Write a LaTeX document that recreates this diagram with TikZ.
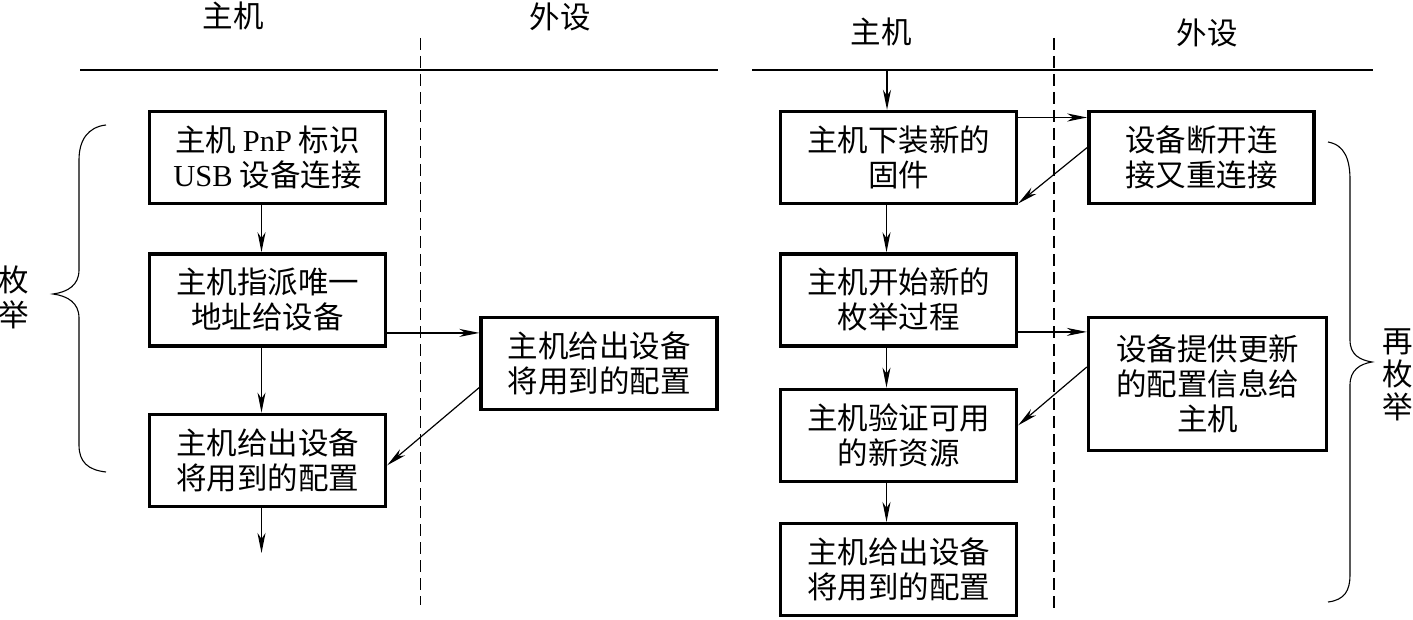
\documentclass[tikz,border=0pt]{standalone}
\usepackage{fontspec}
\setmainfont{Liberation Serif}
\newfontfamily\cjk{Noto Sans CJK SC}
\newfontfamily\latin{Liberation Serif}
\usetikzlibrary{arrows.meta,positioning}

\begin{document}
\begin{tikzpicture}[
    x=1pt, y=-1pt,
    font=\cjk\fontsize{30.5}{35}\selectfont,
    box/.style={draw, line width=3.4pt, align=center, inner sep=2pt, minimum width=236pt, minimum height=92pt},
    arr/.style={-{Stealth[length=20pt,width=8pt,inset=6pt]}, line width=1.2pt},
    lane/.style={dash pattern=on 12pt off 6pt, line width=1.2pt},
    rule/.style={line width=2pt},
    brc/.style={line width=1.1pt},
    head/.style={inner sep=0pt},
  ]
  \useasboundingbox (0,0) rectangle (1413,620);

  % --- left panel: enumeration ---
  \node[head] (lhost) at (233,16) {主机};
  \node[head] (ldev) at (560,17) {外设};
  \draw[rule] (80,70.5) -- (718,70.5);
  \draw[lane] (420.5,38) -- (420.5,605);

  \node[box] (ln1) at (267.5,157.5) {主机 {\latin PnP} 标识\\{\latin USB} 设备连接};
  \node[box, below=47pt of ln1] (ln2) {主机指派唯一\\地址给设备};
  \node[box, below=65pt of ln2] (ln3) {主机给出设备\\将用到的配置};
  \node[box] (lcfg) at (599,363.5) {主机给出设备\\将用到的配置};
  \coordinate (lout) at (261.5,553);

  \draw[arr] ([xshift=-6pt]ln1.south) -- ([xshift=-6pt]ln2.north);
  \draw[arr] ([xshift=-6pt]ln2.south) -- ([xshift=-6pt]ln3.north);
  \draw[arr] ([xshift=-6pt]ln3.south) -- (lout);
  \draw[arr] ([yshift=-33pt]ln2.east) -- ([yshift=-33pt]ln2.east -| lcfg.west);
  \draw[arr] ([yshift=-24pt]lcfg.west) -- ([yshift=-5pt]ln3.east);

  \draw[brc] (106,125) .. controls (88,127) and (79,140) .. (79,160) -- (79,270)
    .. controls (79,285) and (68,292) .. (53,294) .. controls (68,296) and (79,303) .. (79,318)
    -- (79,445) .. controls (79,462) and (88,470) .. (106,472);
  \node[align=center, inner sep=0pt] (lenum) at (14,297) {枚\\举};

  % --- right panel: re-enumeration ---
  \node[head] (rhost) at (881,32) {主机};
  \node[head] (rdev) at (1207,33) {外设};
  \draw[rule] (752,70.5) -- (1373,70.5);
  \draw[lane] (1054,38) -- (1054,608);

  \node[box] (rn1) at (898.5,157.5) {主机下装新的\\固件};
  \node[box, below=47pt of rn1] (rn2) {主机开始新的\\枚举过程};
  \node[box, below=40pt of rn2] (rn3) {主机验证可用\\的新资源};
  \node[box, below=39pt of rn3] (rn4) {主机给出设备\\将用到的配置};
  \node[box, minimum width=225pt, right=69pt of rn1] (rd1) {设备断开连\\接又重连接};
  \node[box, minimum width=238pt, minimum height=133pt] (rd2) at (1207.5,384) {设备提供更新\\的配置信息给\\主机};
  \coordinate (rin) at (887,70.5);

  \draw[arr] (rin) -- (rin |- rn1.north);
  \draw[arr] ([xshift=-12pt]rn1.south) -- ([xshift=-12pt]rn2.north);
  \draw[arr] ([xshift=-12pt]rn2.south) -- ([xshift=-12pt]rn3.north);
  \draw[arr] ([xshift=-12pt]rn3.south) -- ([xshift=-12pt]rn4.north);
  \draw[arr] ([yshift=40pt]rn1.east) -- ([yshift=40pt]rn1.east -| rd1.west);
  \draw[arr] ([yshift=10pt]rd1.west) -- ([yshift=-46pt]rn1.east);
  \draw[arr] ([yshift=-32pt]rn2.east) -- ([yshift=-32pt]rn2.east -| rd2.west);
  \draw[arr] ([yshift=17pt]rd2.west) -- ([yshift=10pt]rn3.east);

  \draw[brc] (1328,142) .. controls (1345,145) and (1350,160) .. (1350,180) -- (1350,340)
    .. controls (1350,355) and (1360,360) .. (1372,362) .. controls (1360,364) and (1350,370) .. (1350,385)
    -- (1350,575) .. controls (1350,590) and (1345,600) .. (1328,602);
  \node[align=center, inner sep=0pt, font=\cjk\fontsize{30.5}{33}\selectfont] (renum) at (1398,375) {再\\枚\\举};
\end{tikzpicture}
\end{document}
